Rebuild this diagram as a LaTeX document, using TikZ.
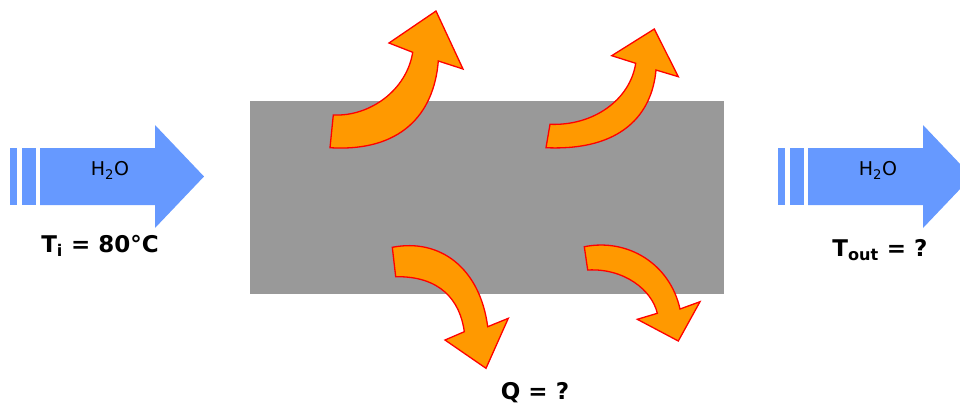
\documentclass[tikz,border=0pt]{standalone}
\usepackage{fontspec}
\setmainfont{DejaVu Sans}
\usetikzlibrary{positioning}
\definecolor{water}{HTML}{6699FF}
\definecolor{heat}{HTML}{FF9900}
\definecolor{wall}{HTML}{999999}

\tikzset{
  heatarrow/.style={fill=heat, draw=red, line width=1.3pt, line join=miter},
  flowtext/.style={font=\fontsize{19}{22}\selectfont},
  tempbold/.style={font=\fontsize{23}{26}\selectfont\bfseries}
}

\begin{document}
\begin{tikzpicture}[x=1pt, y=-1pt]
\useasboundingbox (0,0) rectangle (960,408);
\clip (0,0) rectangle (960,408);

% --- Pipe wall ---
\fill[wall] (250,101) rectangle (724,294);

% --- Water in and out ---
\foreach \dx in {0,768} {
  \begin{scope}[shift={(\dx,0)}]
    \fill[water] (10,148) rectangle (17,205);
    \fill[water] (22,148) rectangle (36,205);
    \fill[water] (40,148) -- (155,148) -- (155,125) -- (204,176.5)
      -- (155,228) -- (155,205) -- (40,205) -- cycle;
  \end{scope}
}

\node[flowtext] (h2oin) at (110,170) {H\textsubscript{2}O};
\node[flowtext] (h2oout) at (878,170) {H\textsubscript{2}O};
\node[tempbold] (tin) at (100,246) {T\textsubscript{i} = 80°C};
\node[tempbold] (tout) at (880,250) {T\textsubscript{out} = ?};

% --- Heat leaving the wall ---
% upper left
\draw[heatarrow] (333.3,115) .. controls (370,116.7) and (406.7,90) .. (412.7,52.3)
  -- (389,43) -- (436,11) -- (463,69) -- (438.3,61)
  .. controls (434,115) and (400,152) .. (330,147.7) -- cycle;
% upper right
\draw[heatarrow] (550,124.3) .. controls (593.3,126) and (630,100) .. (635.7,63.3)
  -- (611.7,55.7) -- (654.3,29) -- (678.3,76.7) -- (656,70)
  .. controls (652,114) and (622,151) .. (546,147.7) -- cycle;
% lower left
\draw[heatarrow] (392.3,247.3) .. controls (440,238) and (480,268) .. (487.7,326.7)
  -- (508.3,318.3) -- (486,368.3) -- (445,340) -- (464.3,331.7)
  .. controls (460,300) and (440,276) .. (395.7,276.7) -- cycle;
% lower right
\draw[heatarrow] (584.3,246.7) .. controls (628,238) and (670,264) .. (680,309)
  -- (700,301.7) -- (678.3,341) -- (637.3,319.3) -- (657.3,313.3)
  .. controls (652,290) and (624,268) .. (587.7,270) -- cycle;

\node[tempbold] (qheat) at (535,393) {Q = ?};
\end{tikzpicture}
\end{document}
